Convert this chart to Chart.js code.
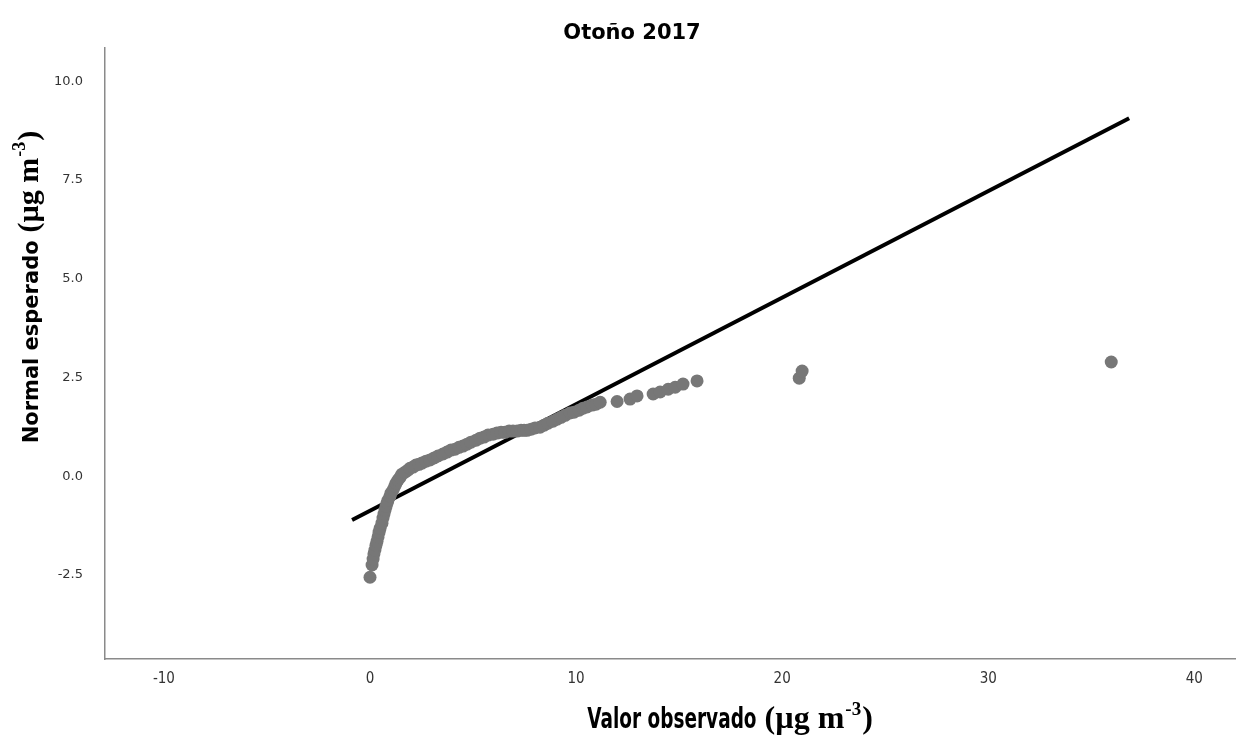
<!DOCTYPE html>
<html>
<head>
<meta charset="utf-8">
<script src="https://cdn.jsdelivr.net/npm/chart.js@4.4.0/dist/chart.umd.min.js"></script>
<style>
  html, body { margin: 0; padding: 0; background: #fff; }
  #wrap { width: 1242px; height: 735px; }
</style>
</head>
<body>
<div id="wrap"><canvas id="qqChart" width="1242" height="735"></canvas></div>
<script>
// Q-Q plot, Otoño 2017
const observed = [0.00, 0.10, 0.15, 0.19, 0.24, 0.29, 0.34, 0.39, 0.44, 0.49, 0.58, 0.63, 0.68, 0.73, 0.78, 0.83, 0.87, 0.97, 1.02, 1.12,
  1.21, 1.26, 1.36, 1.46, 1.55, 1.70, 1.84, 1.94, 2.09, 2.23, 2.38, 2.52, 2.72, 2.91, 3.11, 3.30, 3.54, 3.74, 3.93, 4.13,
  4.32, 4.51, 4.71, 4.90, 5.15, 5.34, 5.53, 5.73, 5.97, 6.16, 6.36, 6.55, 6.75, 6.94, 7.14, 7.33, 7.48, 7.62, 7.82, 8.01,
  8.25, 8.45, 8.64, 8.88, 9.08, 9.27, 9.47, 9.71, 9.90, 10.15, 10.34, 10.53, 10.78, 10.97, 11.17,
  11.99, 12.62, 12.96, 13.74, 14.08, 14.47, 14.81, 15.19, 15.87, 20.83, 20.97, 35.97];
const expectedNormal = [-2.56, -2.25, -2.10, -1.97, -1.87, -1.75, -1.65, -1.54, -1.42, -1.32, -1.19, -1.06, -0.96, -0.86, -0.76, -0.68, -0.61, -0.51, -0.43, -0.35,
  -0.25, -0.18, -0.10, -0.03, 0.05, 0.10, 0.15, 0.20, 0.23, 0.28, 0.30, 0.33, 0.38, 0.41, 0.46, 0.51, 0.56, 0.61, 0.66, 0.68,
  0.73, 0.76, 0.81, 0.86, 0.91, 0.96, 0.99, 1.04, 1.06, 1.09, 1.11, 1.11, 1.14, 1.14, 1.14, 1.16, 1.16, 1.16, 1.19, 1.22,
  1.24, 1.29, 1.34, 1.39, 1.44, 1.49, 1.54, 1.60, 1.62, 1.67, 1.72, 1.75, 1.80, 1.82, 1.87,
  1.89, 1.95, 2.03, 2.08, 2.13, 2.20, 2.25, 2.33, 2.41, 2.48, 2.66, 2.89];

// recta de referencia
const refLineX = [-0.87, 36.84];
const refLineY = [-1.11, 9.06];

const xTicks = [-10, 0, 10, 20, 30, 40];
const yTicks = [-2.5, 0, 2.5, 5, 7.5, 10];

const chartTitle = 'Otoño 2017';

// dibuja un texto hecho de trozos (fuente distinta / superíndice / estrechado)
function drawParts(ctx, parts, cx, baseY) {
  let total = 0;
  parts.forEach(p => {
    ctx.font = p.font;
    p.w = ctx.measureText(p.text).width * (p.sx || 1);
    total += p.w + (p.gap || 0);
  });
  let x = cx - total / 2;
  parts.forEach(p => {
    ctx.save();
    ctx.font = p.font;
    ctx.translate(x, baseY - (p.rise || 0));
    ctx.scale(p.sx || 1, 1);
    ctx.fillText(p.text, 0, 0);
    ctx.restore();
    x += p.w + (p.gap || 0);
  });
}

const unitParts = size => [
  { text: '(µg m', font: 'bold ' + size + 'px "Liberation Serif"', gap: 1 },
  { text: '-3', font: 'bold ' + Math.round(size * 0.6) + 'px "Liberation Serif"', rise: size * 0.42, gap: 1 },
  { text: ')', font: 'bold ' + size + 'px "Liberation Serif"' }
];

const textPlugin = {
  id: 'qqText',
  afterDraw(chart) {
    const ctx = chart.ctx;
    ctx.save();
    ctx.fillStyle = '#000';
    ctx.textBaseline = 'alphabetic';
    ctx.textAlign = 'center';
    ctx.font = 'bold 21px "DejaVu Sans"';
    ctx.fillText(chartTitle, 632, 39);

    ctx.textAlign = 'left';
    // eje x
    drawParts(ctx, [{ text: 'Valor observado', font: 'bold 28px "DejaVu Sans"', sx: 0.66, gap: 8 }].concat(unitParts(32)), 730, 728);
    // eje y
    ctx.translate(38, 287);
    ctx.rotate(-Math.PI / 2);
    drawParts(ctx, [{ text: 'Normal esperado', font: 'bold 21px "DejaVu Sans"', gap: 8 }].concat(unitParts(30)), 0, 0);
    ctx.restore();
  }
};

const ctx = document.getElementById('qqChart').getContext('2d');
new Chart(ctx, {
  type: 'scatter',
  data: {
    datasets: [{
      label: 'Observado',
      data: observed.map((v, i) => ({ x: v, y: expectedNormal[i] })),
      backgroundColor: '#777777',
      borderWidth: 0,
      pointRadius: 6.5,
      pointHoverRadius: 6.5
    }, {
      label: 'Recta',
      data: refLineX.map((v, i) => ({ x: v, y: refLineY[i] })),
      showLine: true,
      borderColor: '#000',
      borderWidth: 4,
      pointRadius: 0,
      fill: false
    }]
  },
  options: {
    responsive: false,
    animation: false,
    layout: { padding: { top: 48, right: 2, left: 0, bottom: 0 } },
    plugins: {
      legend: { display: false },
      tooltip: { enabled: false },
      title: { display: false }
    },
    scales: {
      x: {
        type: 'linear',
        min: -12.86,
        max: 42.0,
        afterBuildTicks: s => { s.ticks = xTicks.map(v => ({ value: v })); },
        afterFit: s => { s.height = 76; },
        grid: { display: false, drawTicks: false },
        border: { display: true, color: '#8a8a8a', width: 1.5 },
        ticks: {
          padding: 11,
          maxRotation: 0,
          color: '#333',
          font: { family: '"Liberation Sans Narrow", "DejaVu Sans Condensed", sans-serif', size: 15 },
          callback: v => String(v)
        }
      },
      y: {
        type: 'linear',
        min: -4.63,
        max: 10.84,
        afterBuildTicks: s => { s.ticks = yTicks.map(v => ({ value: v })); },
        afterFit: s => { s.width = 105; },
        grid: { display: false, drawTicks: false },
        border: { display: true, color: '#8a8a8a', width: 1.5 },
        ticks: {
          padding: 22,
          color: '#333',
          font: { family: '"DejaVu Sans"', size: 13 },
          callback: v => v.toFixed(1)
        }
      }
    }
  },
  plugins: [textPlugin]
});
</script>
</body>
</html>
